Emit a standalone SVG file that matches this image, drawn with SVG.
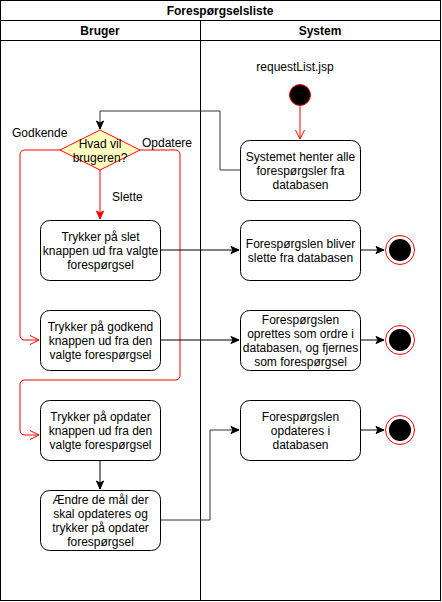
<svg xmlns="http://www.w3.org/2000/svg" width="442" height="602" viewBox="0 0 442 602">
<defs>
<style>
text{font-family:"Liberation Sans",Arial,sans-serif;font-size:12px;fill:#000;text-anchor:middle}
.b{font-weight:bold}
.box{fill:#fff;stroke:#000;stroke-width:1}
.lane{fill:none;stroke:#000;stroke-width:1}
.blk{fill:none;stroke:#000;stroke-width:1}
.gry{fill:none;stroke:#333;stroke-width:1}
.red{fill:none;stroke:#ff0000;stroke-width:1}
.lbl{text-anchor:start}
</style>
<marker id="ab" markerWidth="10" markerHeight="10" refX="9" refY="5" orient="auto" markerUnits="userSpaceOnUse">
<path d="M1,1.5 L9,5 L1,8.5 L3,5 Z" fill="#000" stroke="#000"/>
</marker>
<marker id="ar" markerWidth="10" markerHeight="10" refX="9" refY="5" orient="auto" markerUnits="userSpaceOnUse">
<path d="M1,1.5 L9,5 L1,8.5 L3,5 Z" fill="#ff0000" stroke="#ff0000"/>
</marker>
<marker id="ao" markerWidth="12" markerHeight="12" refX="10" refY="6" orient="auto" markerUnits="userSpaceOnUse">
<path d="M1,1.5 L10,6 L1,10.5" fill="none" stroke="#ff0000"/>
</marker>
</defs>
<rect width="442" height="602" fill="#fff"/>
<g id="pool">
<rect class="lane" x="0.5" y="0.5" width="440" height="600"/>
<line class="lane" x1="0.5" y1="20.5" x2="440.5" y2="20.5"/>
<line class="lane" x1="0.5" y1="40.5" x2="440.5" y2="40.5"/>
<line class="lane" x1="200.5" y1="20.5" x2="200.5" y2="600.5"/>
<text class="b" x="220" y="15">Forespørgselsliste</text>
<text class="b" x="100" y="35">Bruger</text>
<text class="b" x="320" y="35">System</text>
</g>
<g id="connectors">
<path class="red" d="M300,106 V139" marker-end="url(#ao)"/>
<path class="gry" d="M240,170 H220 V111 H100 V129" marker-end="url(#ab)"/>
<path class="red" d="M100,170 V219" marker-end="url(#ar)"/>
<path class="red" d="M60,150 H25 Q20,150 20,155 V335 Q20,340 25,340 H39" marker-end="url(#ao)"/>
<path class="red" d="M140,150 H175 Q180,150 180,155 V375 Q180,380 175,380 H25 Q20,380 20,385 V430 Q20,435 25,435 H39" marker-end="url(#ao)"/>
<path class="blk" d="M160,250 H239" marker-end="url(#ab)"/>
<path class="blk" d="M360,250 H384" marker-end="url(#ab)"/>
<path class="blk" d="M160,340 H239" marker-end="url(#ab)"/>
<path class="blk" d="M360,340 H384" marker-end="url(#ab)"/>
<path class="blk" d="M360,430 H384" marker-end="url(#ab)"/>
<path class="blk" d="M100,460 V489" marker-end="url(#ab)"/>
<path class="gry" d="M160,520 H210 V430 H239" marker-end="url(#ab)"/>
</g>
<g id="label-jsp"><text x="295" y="71">requestList.jsp</text></g>
<g id="start"><circle cx="300" cy="95" r="10.5" fill="#000" stroke="#ff0000"/></g>
<g id="decision">
<path d="M100,130 L140,150 L100,170 L60,150 Z" fill="#ffffc0" stroke="#ff0000"/>
<text x="100" y="148">Hvad vil</text>
<text x="100" y="162">brugeren?</text>
</g>
<g id="lbl-godkende"><text class="lbl" x="12" y="137">Godkende</text></g>
<g id="lbl-opdatere"><text class="lbl" x="142" y="147">Opdatere</text></g>
<g id="lbl-slette"><text class="lbl" x="112" y="201">Slette</text></g>
<g id="sys-fetch">
<rect class="box" x="240.5" y="140.5" width="120" height="60" rx="9"/>
<text x="300.5" y="161">Systemet henter alle</text>
<text x="300.5" y="175">forespørgsler fra</text>
<text x="300.5" y="189">databasen</text>
</g>
<g id="user-delete">
<rect class="box" x="40.5" y="220.5" width="120" height="60" rx="9"/>
<text x="100.5" y="241">Trykker på slet</text>
<text x="100.5" y="255">knappen ud fra valgte</text>
<text x="100.5" y="269">forespørgsel</text>
</g>
<g id="sys-delete">
<rect class="box" x="240.5" y="220.5" width="120" height="60" rx="9"/>
<text x="300.5" y="248">Forespørgslen bliver</text>
<text x="300.5" y="262">slette fra databasen</text>
</g>
<g id="end1"><circle cx="400" cy="250" r="14.5" fill="#fff" stroke="#ff0000"/><circle cx="400" cy="250" r="11" fill="#000"/></g>
<g id="user-approve">
<rect class="box" x="40.5" y="310.5" width="120" height="60" rx="9"/>
<text x="100.5" y="331">Trykker på godkend</text>
<text x="100.5" y="345">knappen ud fra den</text>
<text x="100.5" y="359">valgte forespørgsel</text>
</g>
<g id="sys-approve">
<rect class="box" x="240.5" y="310.5" width="120" height="60" rx="9"/>
<text x="300.5" y="324">Forespørgslen</text>
<text x="300.5" y="338">oprettes som ordre i</text>
<text x="300.5" y="352">databasen, og fjernes</text>
<text x="300.5" y="366">som forespørgsel</text>
</g>
<g id="end2"><circle cx="400" cy="340" r="14.5" fill="#fff" stroke="#ff0000"/><circle cx="400" cy="340" r="11" fill="#000"/></g>
<g id="user-update">
<rect class="box" x="40.5" y="400.5" width="120" height="60" rx="9"/>
<text x="100.5" y="421">Trykker på opdater</text>
<text x="100.5" y="435">knappen ud fra den</text>
<text x="100.5" y="449">valgte forespørgsel</text>
</g>
<g id="sys-update">
<rect class="box" x="240.5" y="400.5" width="120" height="60" rx="9"/>
<text x="300.5" y="421">Forespørgslen</text>
<text x="300.5" y="435">opdateres i</text>
<text x="300.5" y="449">databasen</text>
</g>
<g id="end3"><circle cx="400" cy="430" r="14.5" fill="#fff" stroke="#ff0000"/><circle cx="400" cy="430" r="11" fill="#000"/></g>
<g id="user-change">
<rect class="box" x="40.5" y="490.5" width="120" height="60" rx="9"/>
<text x="100.5" y="504">Ændre de mål der</text>
<text x="100.5" y="518">skal opdateres og</text>
<text x="100.5" y="532">trykker på opdater</text>
<text x="100.5" y="546">forespørgsel</text>
</g>
</svg>
